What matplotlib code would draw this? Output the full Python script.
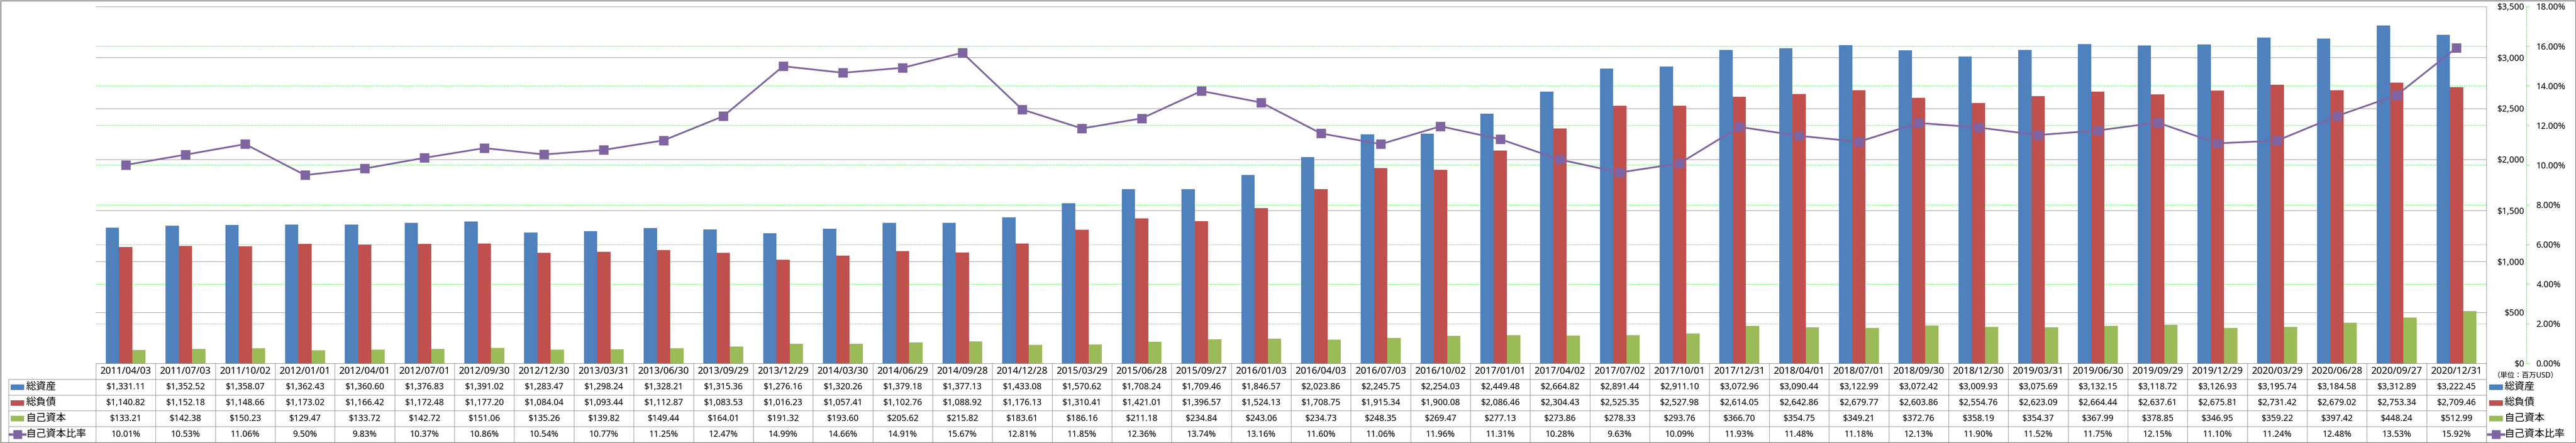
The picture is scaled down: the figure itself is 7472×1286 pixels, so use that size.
import matplotlib
matplotlib.use('Agg')
import matplotlib.pyplot as plt
from matplotlib.patches import Rectangle
from matplotlib.lines import Line2D
import numpy as np

dates = ['2011/04/03', '2011/07/03', '2011/10/02', '2012/01/01', '2012/04/01',
         '2012/07/01', '2012/09/30', '2012/12/30', '2013/03/31', '2013/06/30',
         '2013/09/29', '2013/12/29', '2014/03/30', '2014/06/29', '2014/09/28',
         '2014/12/28', '2015/03/29', '2015/06/28', '2015/09/27', '2016/01/03',
         '2016/04/03', '2016/07/03', '2016/10/02', '2017/01/01', '2017/04/02',
         '2017/07/02', '2017/10/01', '2017/12/31', '2018/04/01', '2018/07/01',
         '2018/09/30', '2018/12/30', '2019/03/31', '2019/06/30', '2019/09/29',
         '2019/12/29', '2020/03/29', '2020/06/28', '2020/09/27', '2020/12/31']

total_assets = [1331.11, 1352.52, 1358.07, 1362.43, 1360.60, 1376.83, 1391.02, 1283.47,
                1298.24, 1328.21, 1315.36, 1276.16, 1320.26, 1379.18, 1377.13, 1433.08,
                1570.62, 1708.24, 1709.46, 1846.57, 2023.86, 2245.75, 2254.03, 2449.48,
                2664.82, 2891.44, 2911.10, 3072.96, 3090.44, 3122.99, 3072.42, 3009.93,
                3075.69, 3132.15, 3118.72, 3126.93, 3195.74, 3184.58, 3312.89, 3222.45]

total_liabilities = [1140.82, 1152.18, 1148.66, 1173.02, 1166.42, 1172.48, 1177.20, 1084.04,
                     1093.44, 1112.87, 1083.53, 1016.23, 1057.41, 1102.76, 1088.92, 1176.13,
                     1310.41, 1421.01, 1396.57, 1524.13, 1708.75, 1915.34, 1900.08, 2086.46,
                     2304.43, 2525.35, 2527.98, 2614.05, 2642.86, 2679.77, 2603.86, 2554.76,
                     2623.09, 2664.44, 2637.61, 2675.81, 2731.42, 2679.02, 2753.34, 2709.46]

equity = [133.21, 142.38, 150.23, 129.47, 133.72, 142.72, 151.06, 135.26,
          139.82, 149.44, 164.01, 191.32, 193.60, 205.62, 215.82, 183.61,
          186.16, 211.18, 234.84, 243.06, 234.73, 248.35, 269.47, 277.13,
          273.86, 278.33, 293.76, 366.70, 354.75, 349.21, 372.76, 358.19,
          354.37, 367.99, 378.85, 346.95, 359.22, 397.42, 448.24, 512.99]

equity_ratio = [10.01, 10.53, 11.06, 9.50, 9.83, 10.37, 10.86, 10.54, 10.77, 11.25,
                12.47, 14.99, 14.66, 14.91, 15.67, 12.81, 11.85, 12.36, 13.74, 13.16,
                11.60, 11.06, 11.96, 11.31, 10.28, 9.63, 10.09, 11.93, 11.48, 11.18,
                12.13, 11.90, 11.52, 11.75, 12.15, 11.10, 11.24, 12.48, 13.53, 15.92]

names = ['総資産', '総負債', '自己資本', '自己資本比率']
unit_label = '（単位：百万USD）'
usd_ticks = [0, 500, 1000, 1500, 2000, 2500, 3000, 3500]
pct_ticks = [0, 2, 4, 6, 8, 10, 12, 14, 16, 18]

BLUE = '#4F81BD'
RED = '#C0504D'
GREEN = '#9BBB59'
PURPLE = '#8064A2'
GRID = '#868686'
LIME = '#00FF00'
EDGE = '#8C8C8C'

W, H = 7472, 1286
DPI = 100
PX = 72 / DPI  # points per pixel

plt.rcParams['font.family'] = ['Noto Sans', 'Noto Sans CJK JP', 'DejaVu Sans']

fig = plt.figure(figsize=(W / DPI, H / DPI), dpi=DPI)


def rect(x0, y0, x1, y1):
    return [x0 / W, 1 - y1 / H, (x1 - x0) / W, (y1 - y0) / H]


PL, PT, PR, PB = 278, 19, 7212, 1055
TB = 1284
n = len(dates)
x = np.arange(n)
bw = 1 / 4.5

# percent axis (bottom layer: green grid and axis)
ax_pct = fig.add_axes(rect(PL, PT, PR, PB))
ax_pct.set_xlim(-0.5, n - 0.5)
ax_pct.set_ylim(0, 18)
ax_pct.set_yticks(pct_ticks, ['%.2f%%' % v for v in pct_ticks])
ax_pct.grid(axis='y', color=LIME, lw=0.9, linestyle=(0, (3.3, 2.2)))
for s in ['left', 'top', 'bottom']:
    ax_pct.spines[s].set_visible(False)
ax_pct.spines['right'].set_position(('outward', 116 * PX))
ax_pct.spines['right'].set_color(LIME)
ax_pct.spines['right'].set_linewidth(0.9)
ax_pct.spines['right'].set_linestyle((0, (3.3, 2.2)))
ax_pct.tick_params(axis='y', left=False, labelleft=False, right=True, labelright=True,
                   length=8 * PX, width=0.9, color=LIME, pad=21 * PX, labelsize=18)
ax_pct.tick_params(axis='x', bottom=False, labelbottom=False)

# bar axis (dollars)
ax_bar = fig.add_axes(rect(PL, PT, PR, PB), sharex=ax_pct)
ax_bar.patch.set_visible(False)
ax_bar.set_ylim(0, 3500)
ax_bar.set_yticks(usd_ticks, ['${:,}'.format(v) for v in usd_ticks], ha='right')
ax_bar.set_axisbelow(True)
ax_bar.grid(axis='y', color=GRID, lw=0.9)
for s in ['left', 'top', 'bottom']:
    ax_bar.spines[s].set_visible(False)
ax_bar.spines['right'].set_color(EDGE)
ax_bar.spines['right'].set_linewidth(1.0)
ax_bar.tick_params(axis='y', left=False, labelleft=False, right=True, labelright=True,
                   length=0, pad=110 * PX, labelsize=18)
ax_bar.tick_params(axis='x', bottom=False, labelbottom=False)

ax_bar.bar(x - bw, total_assets, bw, color=BLUE)
ax_bar.bar(x, total_liabilities, bw, color=RED)
ax_bar.bar(x + bw, equity, bw, color=GREEN)

# ratio line
ax_line = fig.add_axes(rect(PL, PT, PR, PB), sharex=ax_pct)
ax_line.set_ylim(0, 18)
ax_line.axis('off')
ax_line.plot(x, equity_ratio, color=PURPLE, lw=3.6, marker='s', markersize=19,
             markeredgecolor=PURPLE, clip_on=False)

# data table under the plot
tab = fig.add_axes(rect(PL, PB, PR, TB), sharex=ax_pct)
tab.set_ylim(5, 0)
tab.axis('off')
for i in range(n + 1):
    tab.plot([i - 0.5, i - 0.5], [0, 5], color=EDGE, lw=1.0, clip_on=False)
for r in range(0, 6):
    tab.plot([-0.5, n - 0.5], [r, r], color=EDGE, lw=1.0, clip_on=False)

rows = [['${:,.2f}'.format(v) for v in total_assets],
        ['${:,.2f}'.format(v) for v in total_liabilities],
        ['${:,.2f}'.format(v) for v in equity],
        ['%.2f%%' % v for v in equity_ratio]]
for i in range(n):
    tab.text(i, 0.5, dates[i], ha='center', va='center', fontsize=20)
    for r in range(4):
        tab.text(i, r + 1.5, rows[r][i], ha='center', va='center', fontsize=18)

# overlay in pixel coordinates for the row headers, side legend and frame
ov = fig.add_axes([0, 0, 1, 1])
ov.set_xlim(0, W)
ov.set_ylim(H, 0)
ov.axis('off')
ov.patch.set_visible(False)

row_h = (TB - PB) / 5
LC = 25
for r in range(1, 6):
    y = PB + r * row_h
    ov.plot([LC, PL], [y, y], color=EDGE, lw=1.0)
ov.plot([LC, LC], [PB + row_h, TB], color=EDGE, lw=1.0)
ov.plot([PR, PR], [PB, TB], color=EDGE, lw=1.0)

colors = [BLUE, RED, GREEN]


def legend_key(x0, x1, yc, k):
    if k < 3:
        ov.add_patch(Rectangle((x0, yc - 8), x1 - x0, 16, color=colors[k], lw=0))
    else:
        ov.add_line(Line2D([x0 - 3, x1 + 3], [yc, yc], color=PURPLE, lw=5))
        ov.add_line(Line2D([(x0 + x1) / 2], [yc], color=PURPLE, marker='s',
                           markersize=17, lw=0))


for k in range(4):
    yc = PB + (k + 1.5) * row_h
    legend_key(31, 70, yc, k)
    ov.text(75, yc, names[k], ha='left', va='center', fontsize=21)
    legend_key(7220, 7260, yc, k)
    ov.text(7264, yc, names[k], ha='left', va='center', fontsize=21)

ov.text(7232, 1090, unit_label, ha='left', va='center', fontsize=15)

ov.add_patch(Rectangle((1.5, 1.5), W - 3, H - 3, fill=False, ec=EDGE, lw=2.2))

fig.savefig('out.png', dpi=DPI)
